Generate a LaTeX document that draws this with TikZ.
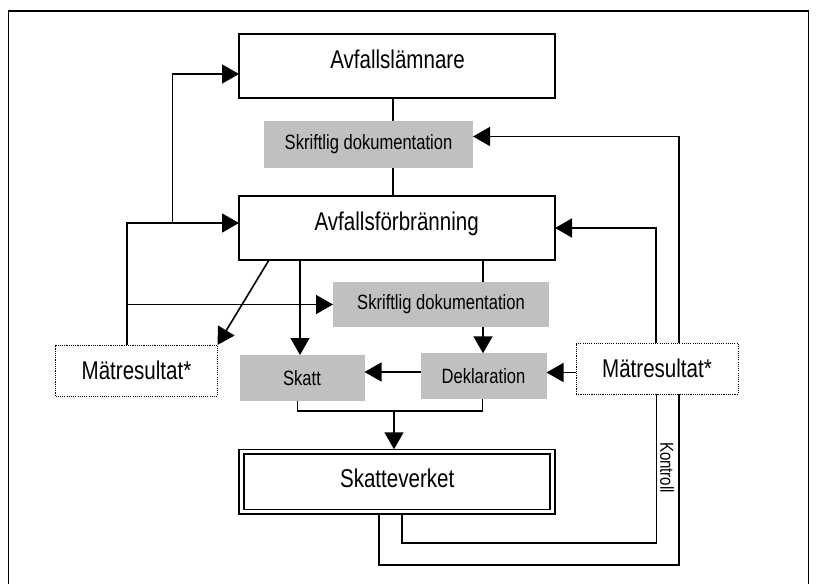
\documentclass[tikz,border=0pt]{standalone}
\usepackage{fontspec}
\setmainfont{Liberation Sans}[FakeStretch=0.8]
\usetikzlibrary{arrows.meta,calc}
\definecolor{boxgray}{RGB}{192,192,192}
\begin{document}
\begin{tikzpicture}[x=1pt,y=-1pt,
  bigbox/.style={draw, line width=1.2pt, minimum width=316pt, minimum height=64pt, inner sep=0pt, outer sep=0pt},
  graybox/.style={fill=boxgray, inner sep=0pt, outer sep=0pt, font=\fontsize{20.7}{24}\selectfont},
  measbox/.style={draw, line width=1pt, dash pattern=on 1.1pt off 1.1pt, minimum width=162pt, minimum height=51pt, inner sep=0pt, outer sep=0pt, font=\fontsize{25.7}{30}\selectfont},
  conn/.style={line width=1.6pt},
  arr/.style={conn, -{Triangle[length=17pt,width=19pt]}},
  bigtext/.style={font=\fontsize{25.7}{30}\selectfont, inner sep=0pt}
]
\useasboundingbox (0,0) rectangle (818,583);
% frame
\draw[line width=1.5pt] (8.5,590) -- (8.5,11) -- (808.5,11) -- (808.5,590);

% nodes
\node[bigbox] (lam) at (397,66) {};
\node[bigtext, anchor=base] (lamt) at (397.5,68.3) {Avfallslämnare};
\node[graybox, minimum width=209pt, minimum height=47pt] (sk1) at (368.5,144.5) {Skriftlig dokumentation};
\node[bigbox] (forb) at (397,228) {};
\node[bigtext, anchor=base] (forbt) at (396.7,230.7) {Avfallsförbränning};
\node[graybox, minimum width=216pt, minimum height=45pt] (sk2) at (441,304.5) {Skriftlig dokumentation};
\node[measbox] (mL) at (136.5,370.5) {Mätresultat*};
\node[graybox, minimum width=125pt, minimum height=46pt] (skatt) at (302,378) {Skatt};
\node[graybox, minimum width=126pt, minimum height=46pt] (dekl) at (483.5,376.3) {Deklaration};
\node[measbox] (mR) at (657,368.7) {Mätresultat*};
\node[draw, line width=1.6pt, double, double distance=3.2pt, minimum width=311pt, minimum height=60pt, inner sep=0pt, outer sep=2.4pt] (skv) at (397,481.7) {};
\node[bigtext, anchor=base] (skvt) at (397.2,487.7) {Skatteverket};
\node[rotate=-90, font=\fontsize{18.8}{21}\selectfont, inner sep=0pt] (kon) at (667,467.5) {Kontroll};

% connectors
\coordinate (j1) at (172.5,223);
\coordinate (m) at (394,411);
\draw[conn] ([xshift=-4.3]lam.south) -- ([xshift=24.2]sk1.north);
\draw[conn] ([xshift=24.2]sk1.south) -- ([xshift=-4.3]forb.north);
\draw[arr] ([xshift=-9.3]mL.north) |- ([yshift=5]forb.west);
\draw[arr] (j1) |- ([yshift=-8]lam.west);
\draw[arr] ([xshift=-9.3]mL.north |- sk2.west) -- (sk2.west);
\draw[arr] ([xshift=-128]forb.south) -- (mL.north east);
\draw[arr] ([xshift=-97]forb.south) -- ([xshift=-2]skatt.north);
\draw[conn] ([xshift=86]forb.south) -- ([xshift=42]sk2.north);
\draw[arr] ([xshift=42]sk2.south) -- ([xshift=-0.5]dekl.north);
\draw[arr] ([yshift=4.3]dekl.west) -- ([yshift=4.3]dekl.west -| skatt.east);
\draw[arr] ([yshift=-3.8]mR.west) -- ([yshift=-3.8]mR.west -| dekl.east);
\draw[arr] ([xshift=-1]mR.north) |- (forb.east);
\draw[arr] ([xshift=22]mR.north) |- ([yshift=8]sk1.east);
\draw[conn] ([xshift=-4.7]skatt.south) |- (m) -| ([xshift=-1]dekl.south);
\draw[arr] (m) -- (m |- skv.north);
\draw[conn] ([xshift=4.7]skv.south) -- ++(0,29) -| ([xshift=-0.5]mR.south);
\draw[conn] ([xshift=-18]skv.south) -- ++(0,51) -| ([xshift=22]mR.south);
\end{tikzpicture}
\end{document}
